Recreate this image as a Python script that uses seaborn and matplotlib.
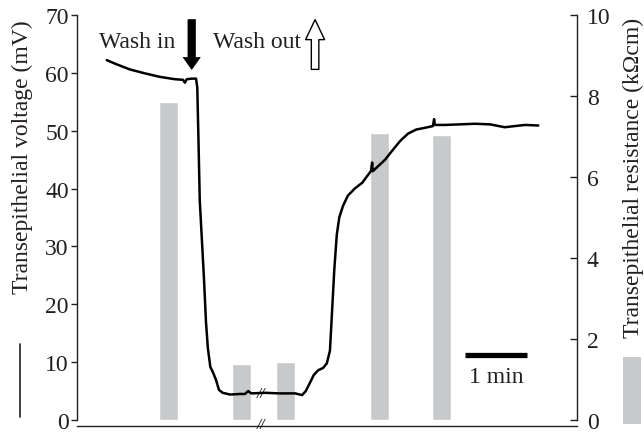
import numpy as np
import pandas as pd
import matplotlib
matplotlib.use("Agg")
import matplotlib.pyplot as plt
from matplotlib.lines import Line2D
from matplotlib.patches import Rectangle
import seaborn as sns

# ---- data ----
# voltage trace (time in minutes, voltage in mV)
trace_time = [0.48, 0.61, 0.85, 1.10, 1.34, 1.58, 1.71, 1.74, 1.77, 1.85, 1.92,
              1.94, 1.96, 1.98, 2.02, 2.05, 2.08, 2.11, 2.15, 2.19, 2.24, 2.29,
              2.35, 2.47, 2.63, 2.71, 2.76, 2.81, 3.03, 3.27, 3.52, 3.63, 3.69,
              3.76, 3.82, 3.89, 3.97, 4.03, 4.08, 4.11, 4.15, 4.19, 4.23, 4.29,
              4.37, 4.48, 4.60, 4.69, 4.74, 4.76, 4.77, 4.85, 4.97, 5.08, 5.21,
              5.34, 5.47, 5.61, 5.74, 5.76, 5.77, 5.94, 6.18, 6.42, 6.66, 6.90,
              7.06, 7.23, 7.44]
trace_voltage = [62.2, 61.6, 60.6, 59.9, 59.3, 58.9, 58.8, 58.3, 58.9, 59.0, 59.0,
                 57.5, 48.0, 38.0, 30.0, 24.0, 17.0, 12.5, 9.2, 8.3, 7.0, 5.2,
                 4.7, 4.4, 4.5, 4.5, 5.0, 4.6, 4.7, 4.6, 4.6, 4.3, 5.0,
                 6.5, 7.8, 8.6, 9.0, 9.8, 12.0, 18.0, 26.0, 32.0, 35.0, 37.0,
                 38.8, 40.0, 41.0, 42.3, 43.0, 44.5, 43.0, 43.8, 45.0, 46.5, 48.2,
                 49.5, 50.2, 50.5, 50.8, 52.0, 51.0, 51.0, 51.1, 51.2, 51.1, 50.6,
                 50.8, 51.0, 50.9]
# resistance bars (time in minutes, resistance in kOhm cm)
bar_time = [1.48, 2.65, 3.36, 4.88, 5.88]
bar_resistance = [7.86, 1.38, 1.42, 7.08, 7.03]

left_ticks = [0, 10, 20, 30, 40, 50, 60, 70]
right_ticks = [0, 2, 4, 6, 8, 10]
wash_in_time = 1.85
wash_out_time = 3.84

BAR_COLOR = "#c8c9ca"
TXT = "#231f20"
FS = 17

sns.set_style("ticks")
plt.rcParams["font.family"] = ["Liberation Serif", "DejaVu Serif"]

W, H = 644, 435
AX_BOTTOM, AX_TOP = 421, 16
fig = plt.figure(figsize=(W / 100, H / 100), dpi=100)
ax = fig.add_axes([77 / W, (H - AX_BOTTOM) / H, 500 / W, (AX_BOTTOM - AX_TOP) / H])
ax2 = ax.twinx()

# bars on secondary axis
sns.barplot(x=bar_time, y=bar_resistance, ax=ax2, native_scale=True,
            color=BAR_COLOR, saturation=1, width=0.43, errorbar=None)

# trace on primary axis
df = pd.DataFrame({"t": trace_time, "v": trace_voltage})
sns.lineplot(data=df, x="t", y="v", ax=ax, color="black", lw=1.8, sort=False,
             estimator=None)

ax.set_zorder(2)
ax2.set_zorder(1)
ax.patch.set_visible(False)

ax.set_xlim(0, 500 / 62)
ax2.set_xlim(0, 500 / 62)
ax.set_ylim(0, 70)
ax2.set_ylim(0, 10)
ax.set_yticks(left_ticks)
ax2.set_yticks(right_ticks)
ax.set_xticks([])
ax2.set_xticks([])
ax.set_xlabel("")
ax.set_ylabel("")
ax2.set_xlabel("")
ax2.set_ylabel("")

for s in ["top", "right"]:
    ax.spines[s].set_visible(False)
for s in ["top", "left", "bottom"]:
    ax2.spines[s].set_visible(False)
ax.spines["bottom"].set_position(("outward", 4))
for sp in [ax.spines["left"], ax.spines["bottom"], ax2.spines["right"]]:
    sp.set_linewidth(1.0)
    sp.set_color(TXT)

ax.tick_params(axis="y", direction="out", length=4, width=1.0, pad=2,
               labelsize=FS, colors=TXT)
ax2.tick_params(axis="y", direction="in", length=5, width=1.0, pad=7,
                labelsize=FS, colors=TXT)

# annotations
ax.text(1.58, 65.5, "Wash in", ha="right", va="center", fontsize=FS, color=TXT)
ax.text(2.19, 65.5, "Wash out", ha="left", va="center", fontsize=FS, color=TXT)
ax.annotate("", xy=(wash_in_time, 60.6), xytext=(wash_in_time, 69.2),
            arrowprops=dict(arrowstyle="simple,head_width=1.7,head_length=1.2,tail_width=0.75",
                            fc="black", ec="black", lw=0.5, shrinkA=0, shrinkB=0,
                            mutation_scale=7.2))
ax.annotate("", xy=(wash_out_time, 69.2), xytext=(wash_out_time, 60.6),
            arrowprops=dict(arrowstyle="simple,head_width=1.9,head_length=2.0,tail_width=0.75",
                            fc="white", ec="black", lw=1.0, shrinkA=0, shrinkB=0,
                            mutation_scale=7.2))

# scale bar
ax.plot([6.26, 7.26], [11.2, 11.2], color="black", lw=3.8, solid_capstyle="butt")
ax.text(6.76, 7.6, "1 min", ha="center", va="center", fontsize=FS, color=TXT)

# break marks
ax.text(2.97, 4.6, "//", ha="center", va="center", fontsize=11, color="black",
        style="italic")
ax.text(2.97, -0.012, "//", ha="center", va="center", fontsize=11, color="black",
        style="italic", transform=ax.get_xaxis_transform(), clip_on=False)

# axis titles
fig.text(22 / W, 1 - 157 / H, "Transepithelial voltage (mV)", rotation=90,
         ha="center", va="center", fontsize=FS, color=TXT)
fig.text(633 / W, 1 - 178 / H, "Transepithelial resistance (k\u03a9cm)", rotation=90,
         ha="center", va="center", fontsize=FS, color=TXT)

# legend keys
fig.add_artist(Line2D([20 / W, 20 / W], [1 - 345 / H, 1 - 418 / H], color=TXT, lw=1.2))
fig.add_artist(Rectangle((623 / W, 1 - 425 / H), 18 / W, 67 / H, color=BAR_COLOR, lw=0))

fig.savefig("out.png", dpi=100)
